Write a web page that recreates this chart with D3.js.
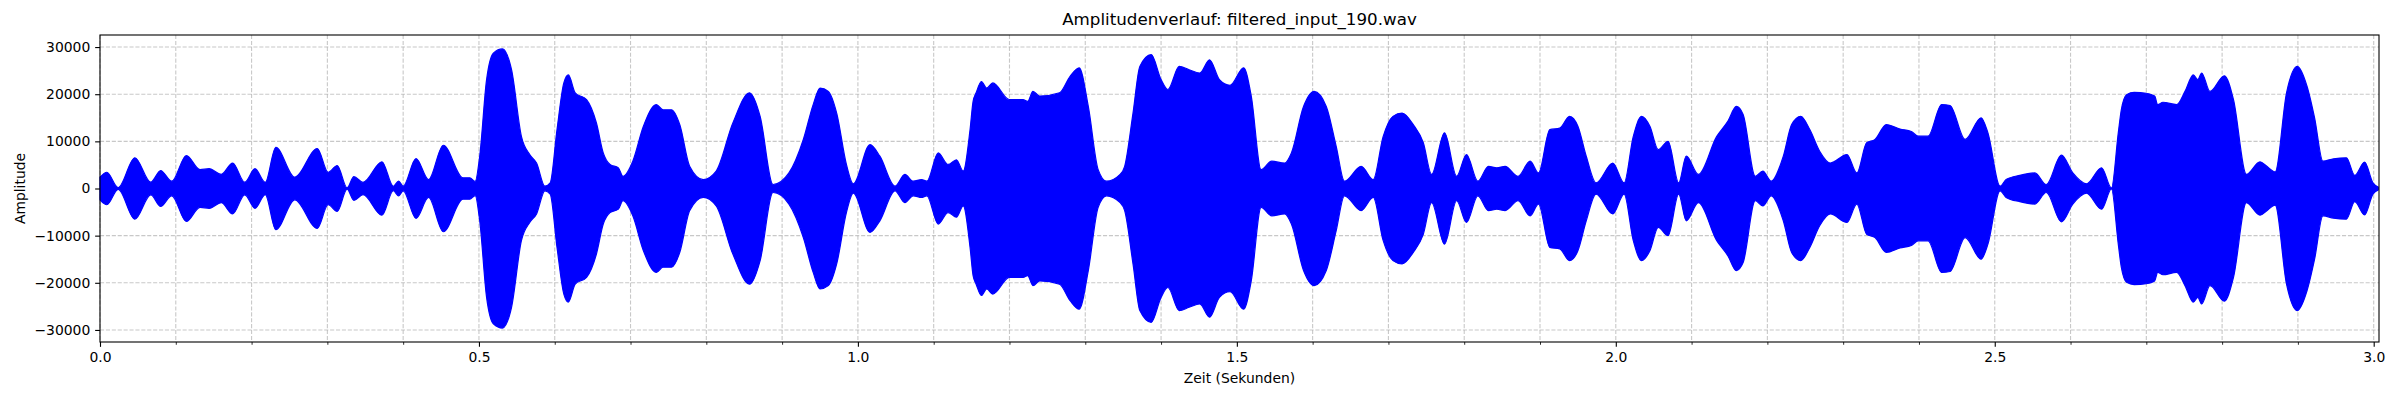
<!DOCTYPE html>
<html>
<head>
<meta charset="utf-8">
<title>Amplitudenverlauf</title>
<script src="https://cdn.jsdelivr.net/npm/d3@7"></script>
<style>
	body { margin: 0; background: #fff; }
	text { font-family: 'DejaVu Sans', sans-serif; fill: #000; }
</style>
</head>
<body>
<div id="chart"></div>
<script>
(function () {
	'use strict';

	var TITLE = 'Amplitudenverlauf: filtered_input_190.wav';
	var X_LABEL = 'Zeit (Sekunden)';
	var Y_LABEL = 'Amplitude';

	var duration = 3.007;
	var yLimit = 32560;

	var xMajorTicks = [0.0, 0.5, 1.0, 1.5, 2.0, 2.5, 3.0];
	var xMinorTicks = [0.1, 0.2, 0.3, 0.4, 0.6, 0.7, 0.8, 0.9, 1.1, 1.2, 1.3, 1.4,
		1.6, 1.7, 1.8, 1.9, 2.1, 2.2, 2.3, 2.4, 2.6, 2.7, 2.8, 2.9];
	var yTicks = [-30000, -20000, -10000, 0, 10000, 20000, 30000];

	// envelope of the waveform (seconds / peak amplitude)
	var times = [
		0.000, 0.009, 0.024, 0.046, 0.067, 0.080, 0.0946, 0.114, 0.132, 0.144,
		0.160, 0.175, 0.191, 0.2045, 0.218, 0.232, 0.257, 0.2867, 0.301, 0.313,
		0.326, 0.335, 0.347, 0.372, 0.387, 0.394, 0.400, 0.417, 0.4335, 0.453,
		0.479, 0.488, 0.495, 0.501, 0.510, 0.519, 0.531, 0.543, 0.556, 0.567,
		0.576, 0.587, 0.594, 0.603, 0.612, 0.618, 0.627, 0.642, 0.655, 0.664,
		0.673, 0.684, 0.690, 0.703, 0.717, 0.734, 0.743, 0.754, 0.765, 0.778,
		0.796, 0.813, 0.835, 0.857, 0.871, 0.888, 0.909, 0.928, 0.941, 0.950,
		0.961, 0.972, 0.985, 0.994, 1.016, 1.029, 1.049, 1.062, 1.073, 1.084,
		1.091, 1.106, 1.119, 1.130, 1.139, 1.148, 1.152, 1.156, 1.163, 1.170, 1.178,
		1.200, 1.218, 1.224, 1.231, 1.240, 1.266, 1.280, 1.292, 1.304, 1.317,
		1.328, 1.346, 1.352, 1.363, 1.372, 1.387, 1.400, 1.409, 1.424, 1.437,
		1.451, 1.464, 1.477, 1.491, 1.509, 1.519, 1.532, 1.546, 1.563, 1.572,
		1.588, 1.602, 1.618, 1.631, 1.642, 1.664, 1.680, 1.693, 1.706, 1.718,
		1.733, 1.746, 1.757, 1.774, 1.790, 1.803, 1.818, 1.832, 1.843, 1.854,
		1.871, 1.887, 1.898, 1.913, 1.926, 1.939, 1.950, 1.961, 1.974, 1.996,
		2.011, 2.023, 2.034, 2.045, 2.056, 2.069, 2.083, 2.093, 2.109, 2.133,
		2.148, 2.159, 2.168, 2.184, 2.194, 2.205, 2.221, 2.232, 2.244, 2.256,
		2.269, 2.283, 2.305, 2.318, 2.331, 2.342, 2.357, 2.375, 2.390, 2.399,
		2.412, 2.430, 2.441, 2.461, 2.482, 2.491, 2.507, 2.515, 2.533, 2.553,
		2.568, 2.588, 2.603, 2.621, 2.641, 2.654, 2.663, 2.667, 2.674, 2.684,
		2.700, 2.711, 2.715, 2.722, 2.740, 2.751, 2.762, 2.768, 2.773, 2.784,
		2.803, 2.815, 2.832, 2.850, 2.859, 2.870, 2.885, 2.899, 2.912, 2.922,
		2.933, 2.947, 2.964, 2.975, 2.988, 2.999, 3.006
	];
	var envelope = [
		2400, 3450, 200, 6500, 1340, 3800, 1550, 7000, 4000, 4200,
		3000, 5400, 1340, 4200, 1300, 8750, 2400, 8470, 3450, 4870,
		150, 2500, 1300, 5650, 480, 1550, 500, 6350, 1900, 9170,
		2270, 2270, 1500, 6850, 23000, 28700, 29600, 25200, 11080, 7200,
		5400, 500, 1200, 12500, 22400, 24100, 20300, 18850, 13900, 7550,
		5100, 4380, 2600, 5800, 13200, 17800, 16700, 16700, 13550, 4730,
		1900, 3700, 13900, 20300, 15300, 850, 3300, 10400, 17800, 21300,
		20600, 16000, 5000, 1000, 9300, 6850, 500, 3000, 1550, 1900,
		1550, 7550, 5100, 6100, 3700, 12500, 18500, 20300, 22700, 21300, 22400,
		18850, 18850, 18500, 20600, 19600, 20300, 23800, 25600, 17400, 4000,
		1550, 3000, 4700, 16000, 25900, 28400, 23100, 21000, 25900, 25200,
		24500, 27300, 23100, 21900, 25600, 19600, 4000, 5800, 5400, 7550,
		17400, 20600, 17400, 9000, 1550, 4700, 1900, 11000, 15300, 16000,
		13500, 9700, 3000, 11800, 2600, 7200, 1550, 4700, 4400, 4700,
		2600, 5800, 3300, 12500, 12800, 15300, 13200, 6850, 1200, 5400,
		1200, 11000, 15300, 13200, 8250, 10000, 1200, 6850, 3000, 11000,
		14300, 17400, 15700, 2600, 3700, 1550, 6850, 13550, 15300, 12500,
		7900, 5400, 7200, 3300, 9700, 10400, 13550, 12600, 12100, 11100,
		11100, 17800, 17600, 10400, 15000, 11800, 500, 1900, 2800, 3300,
		850, 7060, 3300, 1000, 4400, 100, 11800, 16700, 19900, 20400,
		20200, 19600, 17800, 18300, 17800, 20600, 24100, 23100, 24500, 20600,
		23900, 18850, 3000, 5650, 4700, 3530, 20300, 25900, 21700, 15000,
		5800, 6300, 6500, 2800, 5600, 1200, 300
	];

	var width = 2400;
	var height = 400;
	var margin = { top: 35, right: 21, bottom: 58, left: 100 };
	var plotWidth = width - margin.left - margin.right;
	var plotHeight = height - margin.top - margin.bottom;

	var majorTick = 4.86;
	var minorTick = 2.78;
	var tickPad = 4.86;

	var samples = times.map(function (t, i) {
		return { t: t, a: envelope[i] };
	});

	var x = d3.scaleLinear()
		.domain([0, duration])
		.range([0, plotWidth]);

	var y = d3.scaleLinear()
		.domain([-yLimit, yLimit])
		.range([plotHeight, 0]);

	var svg = d3.select('#chart')
		.append('svg')
		.attr('width', width)
		.attr('height', height);

	svg.append('rect')
		.attr('width', width)
		.attr('height', height)
		.style('fill', '#fff');

	var plot = svg.append('g')
		.attr('transform', 'translate(' + margin.left + ',' + margin.top + ')');

	// grid, under the signal
	var grid = plot.append('g')
		.classed('grid', true)
		.style('stroke', '#b0b0b0')
		.style('stroke-opacity', 0.7)
		.style('stroke-width', 1.1)
		.style('stroke-dasharray', '4.1,1.8');

	grid.selectAll('.grid-x')
		.data(xMajorTicks.concat(xMinorTicks))
		.enter()
		.append('line')
		.classed('grid-x', true)
		.attr('x1', function (d) { return x(d); })
		.attr('x2', function (d) { return x(d); })
		.attr('y1', 0)
		.attr('y2', plotHeight);

	grid.selectAll('.grid-y')
		.data(yTicks)
		.enter()
		.append('line')
		.classed('grid-y', true)
		.attr('x1', 0)
		.attr('x2', plotWidth)
		.attr('y1', function (d) { return y(d); })
		.attr('y2', function (d) { return y(d); });

	var area = d3.area()
		.x(function (d) { return x(d.t); })
		.y0(function (d) { return y(-d.a); })
		.y1(function (d) { return y(d.a); })
		.curve(d3.curveMonotoneX);

	plot.append('path')
		.datum(samples)
		.attr('d', area)
		.style('fill', '#0000ff')
		.style('stroke', '#0000ff')
		.style('stroke-width', 1.2)
		.style('stroke-linejoin', 'round');

	// axes
	var xAxis = plot.append('g')
		.attr('transform', 'translate(0,' + plotHeight + ')')
		.call(d3.axisBottom(x)
			.tickValues(xMajorTicks)
			.tickFormat(d3.format('.1f'))
			.tickSize(majorTick)
			.tickSizeOuter(0)
			.tickPadding(tickPad));

	plot.append('g')
		.attr('transform', 'translate(0,' + plotHeight + ')')
		.call(d3.axisBottom(x)
			.tickValues(xMinorTicks)
			.tickFormat('')
			.tickSize(minorTick)
			.tickSizeOuter(0))
		.call(function (g) {
			g.select('.domain').remove();
			g.selectAll('line').style('stroke-width', 0.83);
		});

	var yAxis = plot.append('g')
		.call(d3.axisLeft(y)
			.tickValues(yTicks)
			.tickFormat(d3.format('d'))
			.tickSize(majorTick)
			.tickSizeOuter(0)
			.tickPadding(tickPad));

	[xAxis, yAxis].forEach(function (g) {
		g.select('.domain').remove();
		g.selectAll('line').style('stroke', '#000').style('stroke-width', 1.1);
		g.selectAll('text')
			.style('font-family', "'DejaVu Sans', sans-serif")
			.style('font-size', '13.9px')
			.style('fill', '#000');
	});

	plot.append('rect')
		.attr('width', plotWidth)
		.attr('height', plotHeight)
		.style('fill', 'none')
		.style('stroke', '#000')
		.style('stroke-width', 1.1);

	// labels
	svg.append('text')
		.attr('x', margin.left + plotWidth / 2)
		.attr('y', 25)
		.attr('text-anchor', 'middle')
		.style('font-size', '16.7px')
		.text(TITLE);

	svg.append('text')
		.attr('x', margin.left + plotWidth / 2)
		.attr('y', 382.5)
		.attr('text-anchor', 'middle')
		.style('font-size', '13.9px')
		.text(X_LABEL);

	svg.append('text')
		.attr('transform', 'translate(25,' + (margin.top + plotHeight / 2) + ') rotate(-90)')
		.attr('text-anchor', 'middle')
		.style('font-size', '13.9px')
		.text(Y_LABEL);
}());
</script>
</body>
</html>
